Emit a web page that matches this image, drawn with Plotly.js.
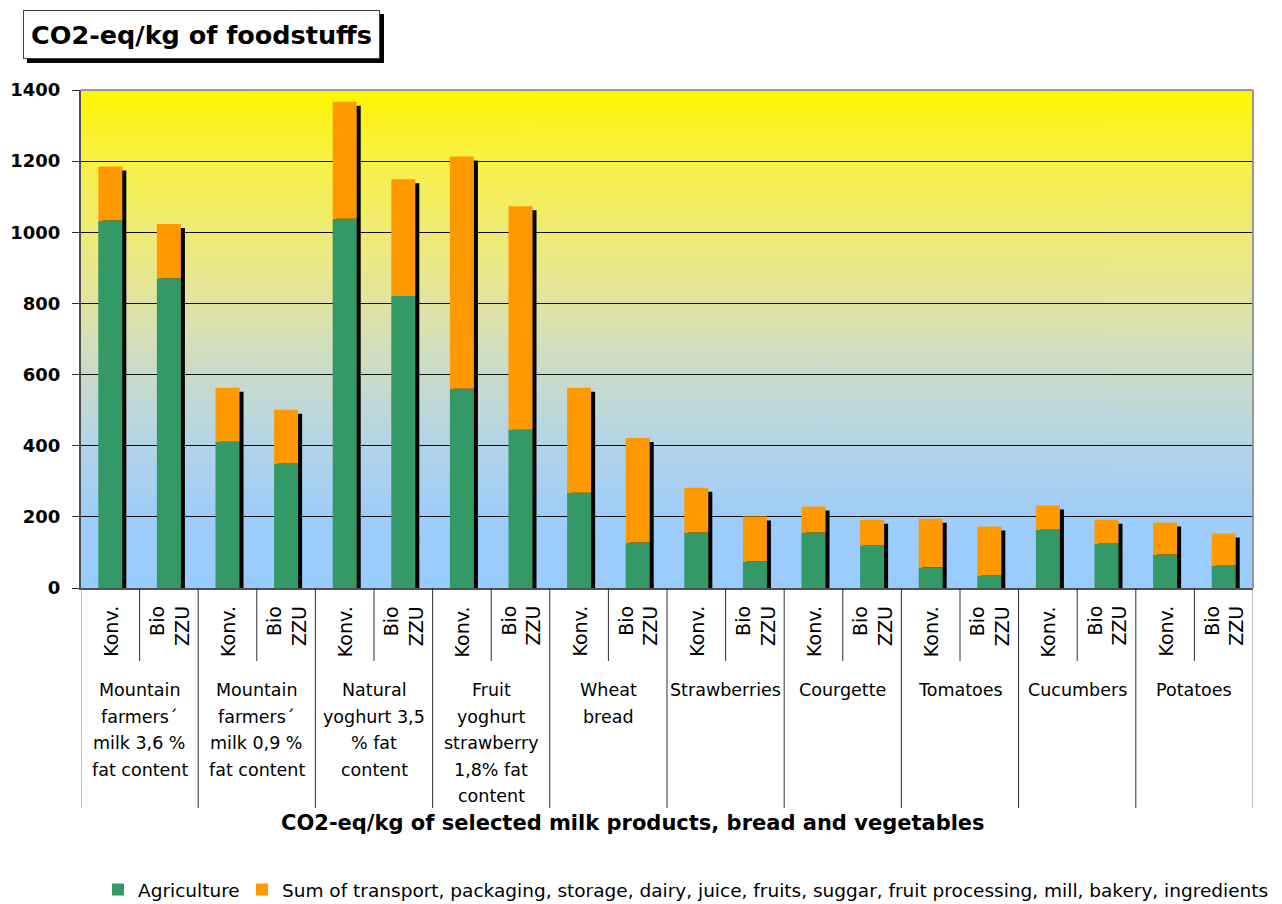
<!DOCTYPE html>
<html>
<head>
<meta charset="utf-8">
<script src="https://cdn.plot.ly/plotly-3.0.1.min.js"></script>
<style>html,body{margin:0;padding:0;background:#fff;}#chart{width:1282px;height:904px;}</style>
</head>
<body>
<div id="chart"></div>
<script>
// ---- data ----
const groups = [
  "Mountain<br>farmers´<br>milk 3,6 %<br>fat content",
  "Mountain<br>farmers´<br>milk 0,9 %<br>fat content",
  "Natural<br>yoghurt 3,5<br>% fat<br>content",
  "Fruit<br>yoghurt<br>strawberry<br>1,8% fat<br>content",
  "Wheat<br>bread",
  "Strawberries",
  "Courgette",
  "Tomatoes",
  "Cucumbers",
  "Potatoes"
];
const variants = ["Konv.", "Bio<br>ZZU"];
const agriculture = [1033, 871, 411, 350, 1038, 821, 560, 445, 268, 128, 156, 75, 156, 120, 58, 35, 164, 125, 94, 63];
const otherSteps  = [152, 152, 152, 151, 329, 328, 653, 628, 295, 294, 126, 126, 73, 72, 137, 138, 68, 67, 90, 90];
const yTicks = [0, 200, 400, 600, 800, 1000, 1200, 1400];
const seriesNames = ["Agriculture", "Sum of transport, packaging, storage, dairy, juice, fruits, suggar, fruit processing, mill, bakery, ingredients"];
const chartTitle = "CO2-eq/kg of foodstuffs";
const xTitle = "CO2-eq/kg of selected milk products, bread and vegetables";

// ---- layout helpers ----
const W = 1282, H = 904;
const M = {l: 81, r: 29, t: 90, b: 316, autoexpand: false};
const PW = W - M.l - M.r, PH = H - M.t - M.b;
const px2x = px => (px - M.l) / PW;
const py2y = py => (M.t + PH - py) / PH;
const FONT = "DejaVu Sans";

const cats = [];
const catVariant = [];
groups.forEach((g, gi) => variants.forEach((v, vi) => {
  cats.push(g.replace(/<br>/g, " ") + " | " + v.replace(/<br>/g, " "));
  catVariant.push(v);
}));
const totals = agriculture.map((a, i) => a + otherSteps[i]);

// gradient background image
function gradientImage() {
  const c = document.createElement("canvas");
  c.width = 4; c.height = 500;
  const ctx = c.getContext("2d");
  const g = ctx.createLinearGradient(0, 0, 0, 500);
  g.addColorStop(0.00, "rgb(255,245,0)");
  g.addColorStop(0.14, "rgb(248,241,70)");
  g.addColorStop(0.38, "rgb(232,231,145)");
  g.addColorStop(0.50, "rgb(213,224,185)");
  g.addColorStop(0.71, "rgb(180,212,232)");
  g.addColorStop(0.86, "rgb(158,205,250)");
  g.addColorStop(1.00, "rgb(153,204,255)");
  ctx.fillStyle = g;
  ctx.fillRect(0, 0, 4, 500);
  return c.toDataURL("image/png");
}

const BW = 0.41;                        // bar width in category units
const SH_X = 4 / (PW / cats.length);    // shadow offset (4px) in category units
const SH_Y = 4 / (PH / 1400);           // shadow drop (4px) in value units

const traces = [
  {
    type: "bar", x: cats, y: totals.map(t => t - SH_Y), base: 0,
    width: BW, offset: -BW / 2 + SH_X,
    marker: {color: "#000000"}, showlegend: false, hoverinfo: "skip"
  },
  {
    type: "bar", name: seriesNames[0], x: cats, y: agriculture,
    width: BW, offset: -BW / 2, legend: "legend",
    marker: {color: "#339966"}
  },
  {
    type: "bar", name: seriesNames[1], x: cats, y: otherSteps, base: agriculture,
    width: BW, offset: -BW / 2, legend: "legend2",
    marker: {color: "#FF9900"}
  }
];

const shapes = [];
const annotations = [];

// category separators
for (let i = 0; i <= cats.length; i++) {
  const inner = (i % 2 === 1);
  shapes.push({
    type: "line", xref: "x", yref: "paper",
    x0: i - 0.5, x1: i - 0.5, y0: 0, y1: py2y(inner ? 661 : 808),
    line: {color: (i === 0 || i === cats.length) ? "#808080" : "#303030", width: 1}
  });
}
// plot border top/right
shapes.push({type: "line", xref: "paper", yref: "paper", x0: 0, x1: 1, y0: 1, y1: 1, line: {color: "#999999", width: 2}});
shapes.push({type: "line", xref: "paper", yref: "paper", x0: 1, x1: 1, y0: 0, y1: 1, line: {color: "#999999", width: 2}});

// inner labels (rotated)
cats.forEach((c, i) => {
  annotations.push({
    xref: "x", yref: "paper", x: i, y: py2y(604),
    text: catVariant[i], textangle: -90, showarrow: false,
    xanchor: "center", yanchor: "top", align: "right",
    font: {family: FONT, size: 19, color: "#000"}
  });
});
// group labels, one annotation per line
groups.forEach((g, gi) => {
  g.split("<br>").forEach((line, li) => {
    annotations.push({
      xref: "x", yref: "paper", x: gi * 2 + 0.5, y: py2y(690 + li * 26.5),
      text: line, showarrow: false, xanchor: "center", yanchor: "middle",
      font: {family: FONT, size: 17.5, color: "#000"}
    });
  });
});
// x title
annotations.push({
  xref: "paper", yref: "paper", x: px2x(633), y: py2y(823),
  text: "<b>" + xTitle + "</b>", showarrow: false, xanchor: "center", yanchor: "middle",
  font: {family: FONT, size: 21, color: "#000"}
});
// chart title box with shadow
shapes.push({
  type: "rect", xref: "paper", yref: "paper",
  x0: px2x(27), x1: px2x(384), y0: py2y(63), y1: py2y(14),
  fillcolor: "#000", line: {width: 0}
});
annotations.push({
  xref: "paper", yref: "paper", x: px2x(23), y: py2y(10),
  xanchor: "left", yanchor: "top",
  text: "<b>" + chartTitle + "</b>", showarrow: false,
  width: 355, height: 47, align: "center", valign: "middle",
  bgcolor: "#ffffff", bordercolor: "#404040", borderwidth: 1, borderpad: 0,
  font: {family: FONT, size: 25.5, color: "#000"}
});

const legendBase = {
  orientation: "h", xanchor: "left", y: py2y(890), yanchor: "middle",
  font: {family: FONT, size: 18.5, color: "#000"}, bgcolor: "rgba(0,0,0,0)",
  traceorder: "normal", itemwidth: 30
};

const layout = {
  width: W, height: H,
  margin: M,
  paper_bgcolor: "#ffffff",
  plot_bgcolor: "rgba(0,0,0,0)",
  barmode: "overlay",
  showlegend: true,
  legend: Object.assign({}, legendBase, {x: px2x(98)}),
  legend2: Object.assign({}, legendBase, {x: px2x(242)}),
  xaxis: {
    type: "category", range: [-0.5, cats.length - 0.5],
    showticklabels: false, ticks: "", showgrid: false, zeroline: false,
    showline: true, linecolor: "#505050", linewidth: 2, fixedrange: true
  },
  yaxis: {
    range: [0, 1400], tickvals: yTicks, ticktext: yTicks.map(String),
    ticks: "outside", ticklen: 7, tickcolor: "#303030", tickwidth: 1,
    ticklabelstandoff: 8,
    tickfont: {family: FONT, size: 18, color: "#000", weight: 700},
    showgrid: true, gridcolor: "#111111", gridwidth: 1,
    zeroline: false, showline: true, linecolor: "#505050", linewidth: 2, fixedrange: true
  },
  images: [{
    source: gradientImage(), xref: "paper", yref: "paper",
    x: 0, y: 1, sizex: 1, sizey: 1, xanchor: "left", yanchor: "top",
    sizing: "stretch", layer: "below"
  }],
  shapes: shapes,
  annotations: annotations
};

Plotly.newPlot("chart", traces, layout, {displayModeBar: false, staticPlot: true});
</script>
</body>
</html>
